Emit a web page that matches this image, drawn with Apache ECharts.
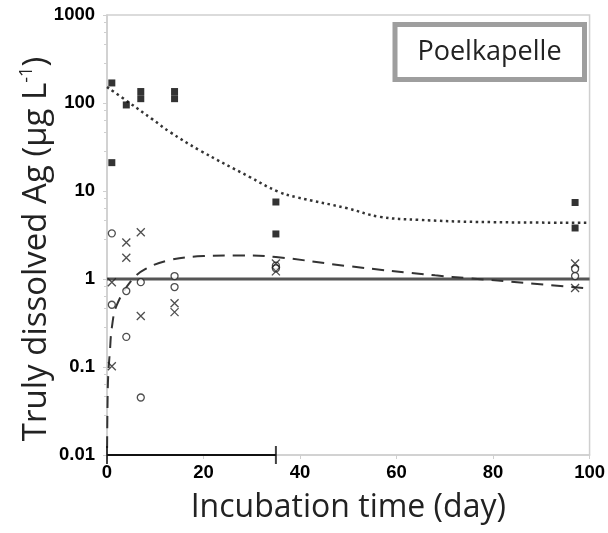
<!DOCTYPE html>
<html>
<head>
<meta charset="utf-8">
<script src="https://cdn.jsdelivr.net/npm/echarts@6/dist/echarts.min.js"></script>
<style>html,body{margin:0;padding:0;background:#fff}#c{width:608px;height:533px}</style>
</head>
<body>
<div id="c"></div>
<script>
// ---- data ----
const xTicks = [0, 20, 40, 60, 80, 100];
const yTickLabels = ['0.01', '0.1', '1', '10', '100', '1000'];
const squares = [[1,169],[1,21],[4,95],[7,135],[7,112],[14,135],[14,112],[35,7.5],[35,3.25],[97,7.4],[97,3.8]];
const circles = [[1,3.3],[1,0.51],[4,0.73],[4,0.22],[7,0.92],[7,0.045],[14,1.08],[14,0.81],[35,1.42],[35,1.32],[97,1.3],[97,1.08]];
const crosses = [[1,0.92],[1,0.102],[4,2.6],[4,1.74],[7,3.4],[7,0.38],[14,0.53],[14,0.42],[35,1.5],[35,1.22],[97,1.5],[97,0.79]];
const dottedFit = [[0,152],[4.7,100],[9.3,66],[13,47],[19.2,29],[29.5,14.5],[35.5,9.8],[39.3,8.5],[49.6,6.4],[56.4,5.1],[64.7,4.7],[77,4.45],[100,4.35]];
const dashedFit = [[0.02,0.012],[0.1,0.035],[0.25,0.08],[0.6,0.15],[1,0.28],[2,0.5],[5,0.95],[8,1.3],[13,1.64],[20,1.82],[28,1.85],[35,1.78],[50,1.4],[68,1.1],[75,1.02],[87,0.9],[100,0.78]];
const referenceLine = [[0,1],[100,1]];
const incubationBar = [[0,0.01],[35,0.01]];
const panelTitle = 'Poelkapelle';
const xTitle = 'Incubation time (day)';
const yTitle = ['Truly dissolved Ag (μg L', '-1', ')'];

const chart = echarts.init(document.getElementById('c'), null, {renderer:'canvas'});
const grey = '#cfcfcf';
const tickRich = {t:{fontFamily:'Liberation Sans', fontWeight:'bold', fontSize:18.5, color:'#000'}};
const option = {
  animation: false,
  grid: {left:107, right:17, top:15, bottom:78, show:true, borderColor:grey, borderWidth:1.5, containLabel:false},
  xAxis: {
    type:'value', min:0, max:100, interval:20,
    name:xTitle, nameLocation:'middle', nameGap:37,
    nameTextStyle:{fontFamily:'Open Sans', fontSize:32, color:'#222'},
    axisLine:{show:true, lineStyle:{color:grey, width:1.5}},
    axisTick:{show:true, length:4, lineStyle:{color:grey}},
    axisLabel:{margin:8, rich:tickRich,
      formatter: v => xTicks.indexOf(v) >= 0 ? '{t|' + v + '}' : ''},
    splitLine:{show:false}
  },
  yAxis: {
    type:'log', logBase:10, min:0.01, max:1000,
    axisLine:{show:true, lineStyle:{color:grey, width:1.5}},
    axisTick:{show:true, length:4, lineStyle:{color:grey}},
    minorTick:{show:true, splitNumber:5, length:3, lineStyle:{color:grey}},
    axisLabel:{margin:12, rich:tickRich,
      formatter: v => { const i = Math.round(Math.log10(v)) + 2; return yTickLabels[i] ? '{t|' + yTickLabels[i] + '}' : ''; }},
    splitLine:{show:false}
  },
  series: [
    {type:'line', data:referenceLine, showSymbol:false, symbol:'none', lineStyle:{color:'#555', width:3}, z:2},
    {type:'line', data:incubationBar, symbol:'none', clip:false, lineStyle:{color:'#111', width:2}, z:5},
    {type:'scatter', data:incubationBar, symbol:'rect', symbolSize:[2,18], clip:false, itemStyle:{color:'#111'}, z:5},
    {type:'line', data:dottedFit, smooth:0.4, symbol:'none', lineStyle:{color:'#333', width:2.5, type:[2.5,3.5]}, z:3},
    {type:'line', data:dashedFit, smooth:0.4, symbol:'none', lineStyle:{color:'#333', width:2, type:[12,8]}, z:3},
    {type:'scatter', data:squares, symbol:'rect', symbolSize:7, itemStyle:{color:'#000'}, z:6},
    {type:'scatter', data:circles, symbol:'circle', symbolSize:7, itemStyle:{color:'#fff', borderColor:'#222', borderWidth:1.3}, z:6},
    {type:'scatter', data:crosses, symbol:'path://M0,0L10,10M10,0L0,10', symbolSize:8, itemStyle:{color:'none', borderColor:'#222', borderWidth:1.3}, z:6}
  ],
  graphic: [
    {type:'rect', shape:{x:395, y:24.5, width:189.5, height:55}, style:{fill:'#fff', stroke:'#9e9e9e', lineWidth:5}, z:10},
    {type:'text', x:489.5, y:52, style:{text:panelTitle, fontFamily:'Open Sans', fontSize:27, fill:'#222', align:'center', verticalAlign:'middle'}, z:11},
    {type:'text', x:37, y:249, rotation:Math.PI/2, z:11,
      style:{text:'{a|' + yTitle[0] + '}{s|' + yTitle[1] + '}{a|' + yTitle[2] + '}', align:'center', verticalAlign:'middle',
        rich:{
          a:{fontFamily:'Open Sans', fontSize:33, fill:'#222', lineHeight:38},
          s:{fontFamily:'Open Sans', fontSize:18, fill:'#222', verticalAlign:'top', lineHeight:38}
        }}}
  ]
};
chart.setOption(option);
</script>
</body>
</html>
